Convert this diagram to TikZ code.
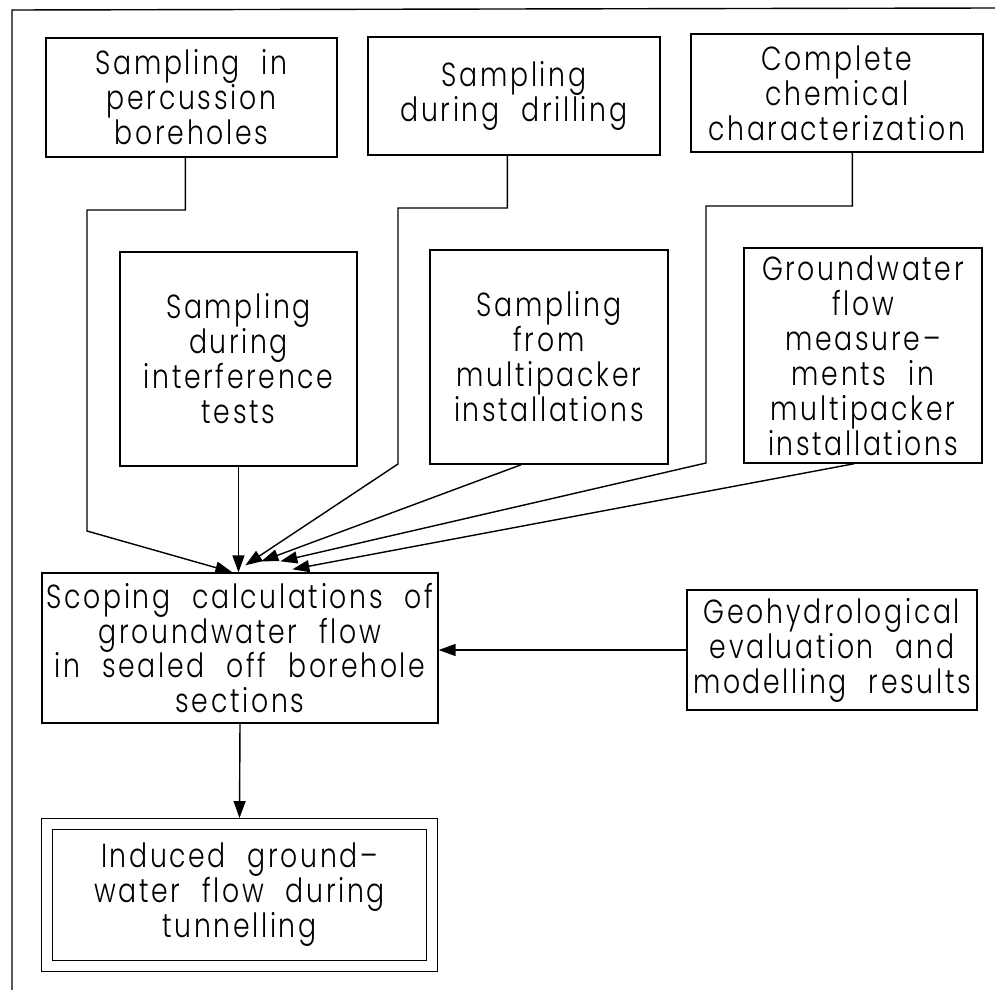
\documentclass[tikz,border=0pt]{standalone}
\usepackage{fontspec}
\setmainfont{Poppins Light}[FakeStretch=0.8,LetterSpace=8,WordSpace=2.2]
\usetikzlibrary{arrows.meta}

\begin{document}
\begin{tikzpicture}[x=0.02cm, y=-0.02cm, line width=0.8pt]
    \tikzstyle{every node}+=[inner sep=0pt, font=\fontsize{19}{19.9}\selectfont]
    \tikzstyle{box}=[draw, align=center]
    \tikzstyle{arr}=[-{Triangle[length=0.34cm,width=0.24cm]}]
    \useasboundingbox (0,0) rectangle (995,990);
    % frame
    \draw [black] (12,990) -- (12,10) -- (995,8);
    % top row
    \node [box, minimum width=5.82cm, minimum height=2.38cm] (perc) at (191.5,97.5) {Sampling in\\percussion\\boreholes};
    \node [box, minimum width=5.84cm, minimum height=2.36cm] (drill) at (514,96) {Sampling\\during drilling};
    \node [box, minimum width=5.84cm, minimum height=2.36cm] (chem) at (837,93) {Complete\\chemical\\characterization};
    % middle row
    \node [box, minimum width=4.74cm, minimum height=4.28cm] (interf) at (238.5,359) {Sampling\\during\\interference\\tests};
    \node [box, minimum width=4.76cm, minimum height=4.28cm] (multi) at (549,357) {Sampling\\from\\multipacker\\installations};
    \node [box, minimum width=4.76cm, minimum height=4.30cm] (gwflow) at (863,355.5) {Groundwater\\flow\\measure--\\ments in\\multipacker\\installations};
    % scoping + results
    \node [box, minimum width=7.92cm, minimum height=3.00cm] (scoping) at (240,648) {Scoping calculations of\\groundwater flow\\in sealed off borehole\\sections};
    \node [box, minimum width=5.80cm, minimum height=2.40cm] (geohyd) at (832,650) {Geohydrological\\evaluation and\\modelling results};
    \node [box, double, double distance=0.192cm, outer sep=0.124cm, minimum width=7.71cm, minimum height=2.83cm] (induced) at (239.5,895) {Induced ground--\\water flow during\\tunnelling};
    % connectors into the scoping box
    \draw [arr] ([shift={(140,0)}]perc.south west) |- (87,210) -- (87,531) -- ([shift={(191,0)}]scoping.north west);
    \draw [arr] ([shift={(140,0)}]drill.south west) |- (398,208) -- (398,464) -- ([shift={(204,-7)}]scoping.north west);
    \draw [arr] ([shift={(162,0)}]chem.south west) |- (706,206) -- (706,463) -- ([shift={(239,-11)}]scoping.north west);
    \draw [arr] (interf.south) -- (interf.south |- scoping.north);
    \draw [arr] ([shift={(92,0)}]multi.south west) -- ([shift={(220,-11)}]scoping.north west);
    \draw [arr] ([shift={(111,0)}]gwflow.south west) -- ([shift={(251,-3)}]scoping.north west);
    \draw [arr] (geohyd.west) -- (scoping.east |- geohyd.west);
    \draw [arr] (scoping.south) -- (induced.north);
\end{tikzpicture}
\end{document}
